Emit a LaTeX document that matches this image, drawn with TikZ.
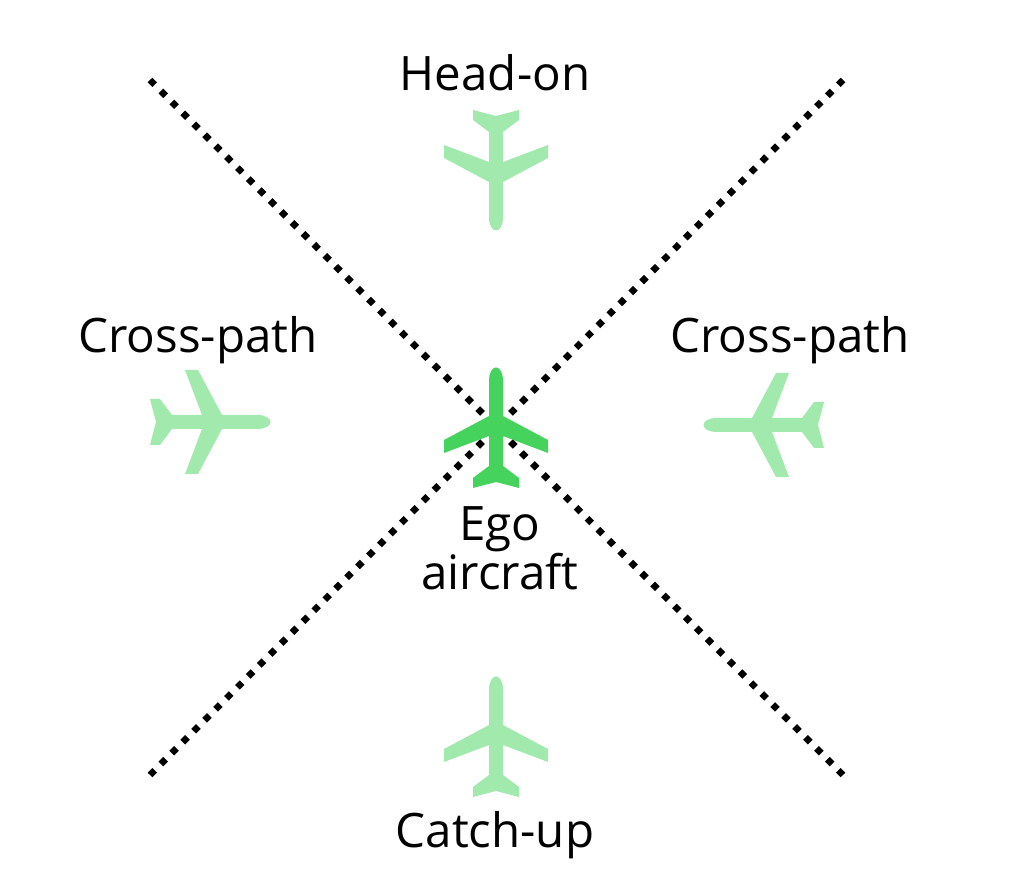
\documentclass[tikz,border=0pt]{standalone}
\usepackage{fontspec}
\setmainfont{Open Sans}
\usetikzlibrary{positioning}
\definecolor{egogreen}{HTML}{45D35D}
\definecolor{othergreen}{HTML}{A2E9AE}
\tikzset{
  plane/.pic={
    \fill [yscale=-1] (-7,45) .. controls (-7,63) and (7,63) .. (7,45)
      -- (7,10) -- (52,-14) -- (52,-27) -- (7,-10) -- (7,-40)
      -- (23,-52) -- (23,-62) -- (0,-56) -- (-23,-62) -- (-23,-52)
      -- (-7,-40) -- (-7,-10) -- (-52,-27) -- (-52,-14) -- (-7,10) -- cycle;
  },
  sector/.style={line width=1.9pt, dash pattern=on 1.9pt off 2.5pt, black},
  lbl/.style={font=\fontsize{13.5pt}{16pt}\selectfont, align=center}
}
\begin{document}
\begin{tikzpicture}[x=0.01cm, y=-0.01cm]
\useasboundingbox (0,0) rectangle (1014,885);

% sector boundaries
\coordinate (tl) at (150,80);
\coordinate (tr) at (843,80);
\coordinate (bl) at (150,775);
\coordinate (br) at (843,775);
\draw [sector] (tl) -- (br);
\draw [sector] (tr) -- (bl);

% aircraft
\pic [othergreen, rotate=180] at (496,172) {plane};
\pic [othergreen, rotate=-90] at (212,422) {plane};
\pic [othergreen, rotate=90] at (762,425) {plane};
\pic [othergreen] at (496,735) {plane};
\pic [egogreen] at (496,426) {plane};

% labels
\node [lbl] (headon) at (495,73) {Head-on};
\node [lbl] (crossl) at (198,340) {Cross-path};
\node [lbl] (crossr) at (790,340) {Cross-path};
\node [lbl] (ego) at (500,548) {Ego\\[-2pt]aircraft};
\node [lbl] (catchup) at (495,835) {Catch-up};
\end{tikzpicture}
\end{document}
